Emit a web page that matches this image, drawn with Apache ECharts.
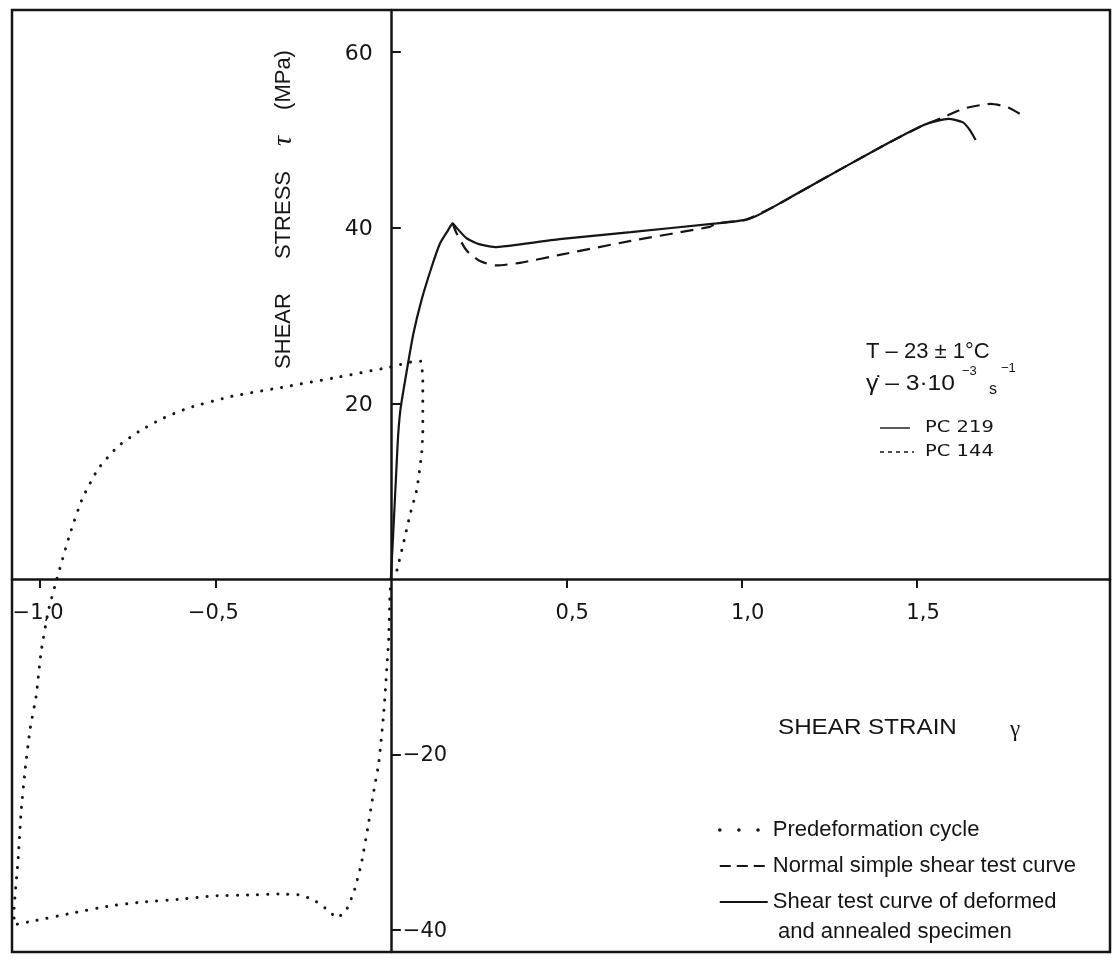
<!DOCTYPE html>
<html>
<head>
<meta charset="utf-8">
<title>Shear stress vs shear strain</title>
<script src="https://cdn.jsdelivr.net/npm/echarts@6/dist/echarts.min.js"></script>
<style>
  html, body { margin: 0; padding: 0; background: #ffffff; }
  #chart { width: 1120px; height: 964px; }
</style>
</head>
<body>
<div id="chart"></div>
<script>
// Tick positions on both axes
const xTickValues = [-1.0, -0.5, 0.5, 1.0, 1.5];
const yTickValues = [-40, -20, 20, 40, 60];
const yLabelsUpper = [20, 40, 60];
const yLabelsLower = [-40, -20];

// Predeformation cycle: reverse loading, reversal at the left, forward loading, unloading
const predeformationCycle = [
  [0, 0], [-0.003, -2.3], [-0.006, -6.8], [-0.011, -9.9], [-0.020, -15.1], [-0.034, -20.8],
  [-0.051, -24.7], [-0.066, -28.4], [-0.085, -32.6], [-0.105, -35.6], [-0.128, -37.8],
  [-0.154, -38.6], [-0.177, -37.8], [-0.219, -36.6], [-0.259, -36.0], [-0.319, -35.9],
  [-0.402, -36.0], [-0.504, -36.1], [-0.604, -36.5], [-0.707, -36.8], [-0.809, -37.3],
  [-0.912, -38.1], [-1.011, -38.9], [-1.074, -39.4],
  [-1.074, -37.8], [-1.063, -32.2], [-1.054, -26.5], [-1.043, -21.9], [-1.028, -17.0],
  [-1.011, -13.3], [-0.997, -8.3], [-0.977, -3.75], [-0.952, 0], [-0.915, 5.1],
  [-0.880, 9.1], [-0.835, 12.5], [-0.778, 15.1], [-0.718, 16.8], [-0.655, 18.2],
  [-0.575, 19.5], [-0.453, 20.8], [-0.299, 21.9], [-0.148, 23.0], [-0.006, 24.1],
  [0.057, 24.7], [0.085, 24.8],
  [0.091, 22.4], [0.091, 16.7], [0.088, 14.4], [0.074, 10.2], [0.054, 7.2],
  [0.034, 3.75], [0.020, 1.4], [0.012, 0.2]
];

// Normal simple shear test (PC 144)
const normalShearCurve = [
  [0.176, 40.5], [0.187, 39.4], [0.216, 37.4], [0.254, 36.2], [0.301, 35.7], [0.368, 36.0],
  [0.481, 36.9], [0.684, 38.5], [0.909, 40.1], [0.929, 40.5], [1.011, 40.9], [1.092, 42.4],
  [1.194, 44.7], [1.397, 49.2], [1.519, 51.7], [1.571, 52.5], [1.635, 53.6], [1.71, 54.1],
  [1.76, 53.7], [1.80, 52.8]
];

// Deformed and annealed specimen (PC 219)
const annealedShearCurve = [
  [0, 0], [0.0066, 5.1], [0.016, 12.7], [0.021, 16.5], [0.028, 19.5], [0.047, 24.1],
  [0.064, 27.9], [0.087, 31.7], [0.116, 35.5], [0.140, 38.2], [0.163, 39.7], [0.176, 40.5],
  [0.187, 40.0], [0.216, 38.8], [0.254, 38.1], [0.301, 37.8], [0.368, 38.1], [0.481, 38.7],
  [0.684, 39.5], [0.929, 40.5], [1.011, 40.9], [1.04, 41.3], [1.092, 42.4], [1.194, 44.7],
  [1.397, 49.2], [1.519, 51.7], [1.56, 52.2], [1.59, 52.4], [1.631, 52.0], [1.651, 51.1],
  [1.667, 50.0]
];

const SERIES_NAMES = [
  'Predeformation cycle',
  'Normal simple shear test curve',
  'Shear test curve of deformed and annealed specimen'
];

const INK = '#151515';
const FONT = "'Liberation Sans', Arial, sans-serif";
const WIDE = "'DejaVu Sans', sans-serif";
const SERIF = "'Liberation Serif', 'DejaVu Serif', serif";

function signed(v, text) {
  return (v < 0 ? '\u2212' : '') + text;
}
function formatStrain(v) {
  return signed(v, Math.abs(v).toFixed(1).replace('.', ','));
}
function formatStress(v) {
  return signed(v, String(Math.abs(v)));
}

function label(text, x, y, size, opts) {
  opts = opts || {};
  return {
    type: 'text',
    x: x, y: y,
    rotation: opts.rotation || 0,
    scaleX: opts.scaleX || 1,
    silent: true,
    style: {
      text: text,
      font: (opts.italic ? 'italic ' : '') + size + 'px ' + (opts.family || FONT),
      fill: INK,
      textAlign: opts.align || 'left',
      textVerticalAlign: 'middle'
    }
  };
}

const chart = echarts.init(document.getElementById('chart'), null, { renderer: 'canvas' });

chart.setOption({
  animation: false,
  backgroundColor: '#ffffff',
  grid: {
    left: 12, right: 10, top: 10, bottom: 12,
    show: true, borderColor: INK, borderWidth: 2.5,
    containLabel: false, outerBoundsMode: 'none'
  },
  xAxis: {
    type: 'value',
    min: -1.08, max: 2.05,
    axisLine: { onZero: true, lineStyle: { color: INK, width: 2.5 } },
    axisTick: { show: true, customValues: xTickValues, length: 9, lineStyle: { color: INK, width: 2 } },
    axisLabel: { show: false },
    splitLine: { show: false }
  },
  yAxis: {
    type: 'value',
    min: -42.5, max: 64.8,
    axisLine: { onZero: true, lineStyle: { color: INK, width: 2.5 } },
    axisTick: { show: true, inside: true, customValues: yTickValues, length: 10, lineStyle: { color: INK, width: 2 } },
    axisLabel: { show: false },
    splitLine: { show: false }
  },
  legend: {
    show: true,
    orient: 'vertical',
    left: 713, top: 814,
    itemWidth: 48, itemHeight: 14, itemGap: 14,
    selectedMode: false,
    itemStyle: { opacity: 0 },
    textStyle: { color: INK, fontSize: 22, fontFamily: FONT },
    formatter: function (name) {
      return name === SERIES_NAMES[2] ? 'Shear test curve of deformed' : name;
    },
    data: [
      { name: SERIES_NAMES[0], lineStyle: { type: [0.1, 19], width: 3.5, cap: 'round' } },
      { name: SERIES_NAMES[1], lineStyle: { type: [11, 6], width: 2 } },
      { name: SERIES_NAMES[2], lineStyle: { width: 2 } }
    ]
  },
  series: [
    {
      name: SERIES_NAMES[0], type: 'line', data: predeformationCycle,
      symbol: 'none', smooth: 0.15, silent: true,
      lineStyle: { color: INK, width: 3, type: [0.1, 10], cap: 'round' }
    },
    {
      name: SERIES_NAMES[1], type: 'line', data: normalShearCurve,
      symbol: 'none', smooth: 0.2, silent: true,
      lineStyle: { color: INK, width: 2.2, type: [13, 8] }
    },
    {
      name: SERIES_NAMES[2], type: 'line', data: annealedShearCurve,
      symbol: 'none', smooth: 0.2, silent: true,
      lineStyle: { color: INK, width: 2.2 }
    }
  ]
});

// Tick labels sit beside the axes that cross at the origin
const toPixel = function (pt) { return chart.convertToPixel({ gridIndex: 0 }, pt); };
const origin = toPixel([0, 0]);
const tickLabels = [];
xTickValues.forEach(function (v) {
  const p = toPixel([v, 0]);
  tickLabels.push(label(formatStrain(v), p[0] + (v < 0 ? -2 : 6), origin[1] + 35, 21, { family: WIDE, align: 'center' }));
});
yLabelsUpper.forEach(function (v) {
  const p = toPixel([0, v]);
  tickLabels.push(label(formatStress(v), origin[0] - 18, p[1] + 2, 22, { family: WIDE, align: 'right' }));
});
yLabelsLower.forEach(function (v) {
  const p = toPixel([0, v]);
  tickLabels.push(label(formatStress(v), origin[0] + 12, p[1] + 1, 21, { family: WIDE, align: 'left' }));
});

chart.setOption({
  graphic: tickLabels.concat([
    // vertical axis title
    label('SHEAR', 284, 331, 22, { rotation: Math.PI / 2, align: 'center' }),
    label('STRESS', 284, 215, 22, { rotation: Math.PI / 2, align: 'center' }),
    label('\u03C4', 284, 141, 28, { rotation: Math.PI / 2, align: 'center', family: SERIF, italic: true }),
    label('(MPa)', 284, 80, 22, { rotation: Math.PI / 2, align: 'center' }),
    // horizontal axis title
    label('SHEAR STRAIN', 778, 728, 22, { scaleX: 1.1 }),
    label('\u03B3', 1010, 730, 23, { family: SERIF }),
    // test conditions
    label('T \u2013 23 \u00B1 1\u00B0C', 866, 352, 22),
    label('\u03B3\u0307 \u2013 3\u00B710', 866, 384, 22, { scaleX: 1.12 }),
    label('\u22123', 962, 371, 13),
    label('s', 989, 390, 16),
    label('\u22121', 1001, 368, 13),
    // specimen key
    { type: 'line', silent: true, shape: { x1: 880, y1: 428, x2: 910, y2: 428 }, style: { stroke: INK, lineWidth: 1.4 } },
    label('PC 219', 925, 428, 15, { family: WIDE, scaleX: 1.3 }),
    { type: 'line', silent: true, shape: { x1: 880, y1: 452, x2: 914, y2: 452 }, style: { stroke: INK, lineWidth: 1.4, lineDash: [4, 4] } },
    label('PC 144', 925, 452, 15, { family: WIDE, scaleX: 1.3 }),
    // second line of the last legend entry
    label('and annealed specimen', 778, 932, 22)
  ])
});
</script>
</body>
</html>
